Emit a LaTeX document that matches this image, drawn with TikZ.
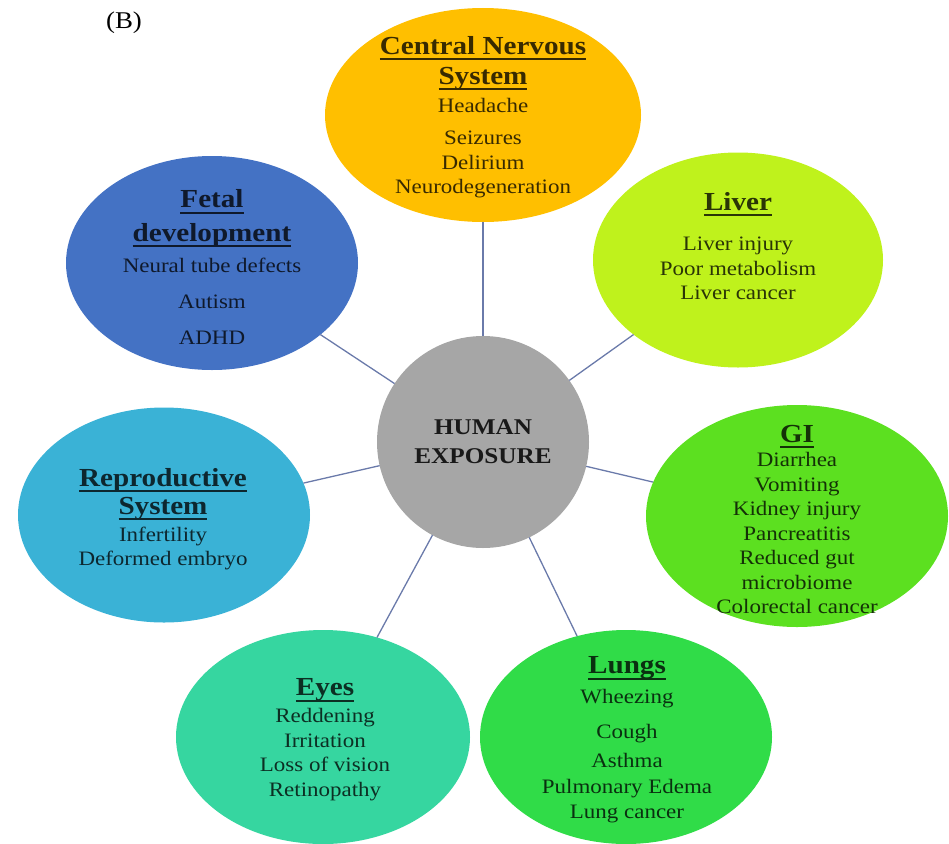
\documentclass[tikz,border=0pt]{standalone}
\usepackage{fontspec}
\setmainfont{Liberation Serif}[FakeStretch=1.12]
\usetikzlibrary{shapes.geometric}

\definecolor{cnsfill}{HTML}{FFBF00}
\definecolor{fetalfill}{HTML}{4472C4}
\definecolor{liverfill}{HTML}{BFF21C}
\definecolor{hubfill}{HTML}{A6A6A6}
\definecolor{reprofill}{HTML}{3AB2D6}
\definecolor{gifill}{HTML}{5CE020}
\definecolor{eyesfill}{HTML}{36D6A0}
\definecolor{lungsfill}{HTML}{30DC48}
\definecolor{linkcol}{HTML}{6A7AAA}

\newcommand{\organhead}[1]{{\fontsize{26}{24}\selectfont\bfseries\setbox0=\hbox{#1}\leavevmode\rlap{\rule[-6pt]{\wd0}{2.2pt}}\box0}}

\begin{document}
\begin{tikzpicture}[x=1pt, y=-1pt,
        organ/.style={ellipse, fill=#1, inner sep=0pt, outer sep=0pt},
        organtext/.style={align=center, text=#1!22!black, inner sep=0pt,
          font=\fontsize{20.5}{24}\selectfont},
        link/.style={draw=linkcol, line width=1.3pt}]
        \useasboundingbox (0,0) rectangle (949,843);

        \node[font=\fontsize{24}{28}\selectfont] (tag) at (124,23) {(B)};

        \node[organ=cnsfill, minimum width=316pt, minimum height=214pt] (cns) at (483,115) {};
        \node[organ=fetalfill, minimum width=292pt, minimum height=214pt] (fetal) at (212,263) {};
        \node[organ=liverfill, minimum width=290pt, minimum height=215pt] (liver) at (738,260) {};
        \node[organ=reprofill, minimum width=292pt, minimum height=215pt] (repro) at (164,515) {};
        \node[organ=gifill, minimum width=302pt, minimum height=222pt] (gi) at (797,516) {};
        \node[organ=eyesfill, minimum width=294pt, minimum height=214pt] (eyes) at (323,737) {};
        \node[organ=lungsfill, minimum width=292pt, minimum height=214pt] (lungs) at (626,737) {};
        \node[circle, fill=hubfill, minimum size=212pt, inner sep=0pt, outer sep=0pt,
          align=center, text=black!90, font=\fontsize{22.5}{29}\selectfont\bfseries]
          (hub) at (483,442) {HUMAN\\EXPOSURE};

        \draw[link] (hub) -- (cns);
        \draw[link] (hub) -- (fetal);
        \draw[link] (hub) -- (liver);
        \draw[link] (hub) -- (repro);
        \draw[link] (hub) -- (gi);
        \draw[link] (hub) -- (eyes);
        \draw[link] (hub) -- (lungs);

        \node[organtext=cnsfill] (cnsT) at (483,117) {\organhead{Central Nervous}\\[6pt]
          \organhead{System}\\[4pt] Headache\\[8pt] Seizures\\[1pt] Delirium\\ Neurodegeneration};
        \node[organtext=fetalfill] (fetalT) at (212,267) {\organhead{Fetal}\\[8pt]
          \organhead{development}\\[7pt] Neural tube defects\\[12pt] Autism\\[12pt] ADHD};
        \node[organtext=liverfill] (liverT) at (738,246) {\organhead{Liver}\\[16pt]
          Liver injury\\[1pt] Poor metabolism\\ Liver cancer};
        \node[organtext=reprofill] (reproT) at (163,519) {\organhead{Reproductive}\\[4pt]
          \organhead{System}\\[3pt] Infertility\\ Deformed embryo};
        \node[organtext=gifill] (giT) at (797,519) {\organhead{GI}\\ Diarrhea\\[1pt] Vomiting\\
          Kidney injury\\[1pt] Pancreatitis\\ Reduced gut\\[1pt] microbiome\\ Colorectal cancer};
        \node[organtext=eyesfill] (eyesT) at (325,740) {\organhead{Eyes}\\[3pt] Reddening\\[1pt]
          Irritation\\ Loss of vision\\[1pt] Retinopathy};
        \node[organtext=lungsfill] (lungsT) at (627,740) {\organhead{Lungs}\\[6pt] Wheezing\\[11pt]
          Cough\\[5pt] Asthma\\[2pt] Pulmonary Edema\\[1pt] Lung cancer};
\end{tikzpicture}
\end{document}
